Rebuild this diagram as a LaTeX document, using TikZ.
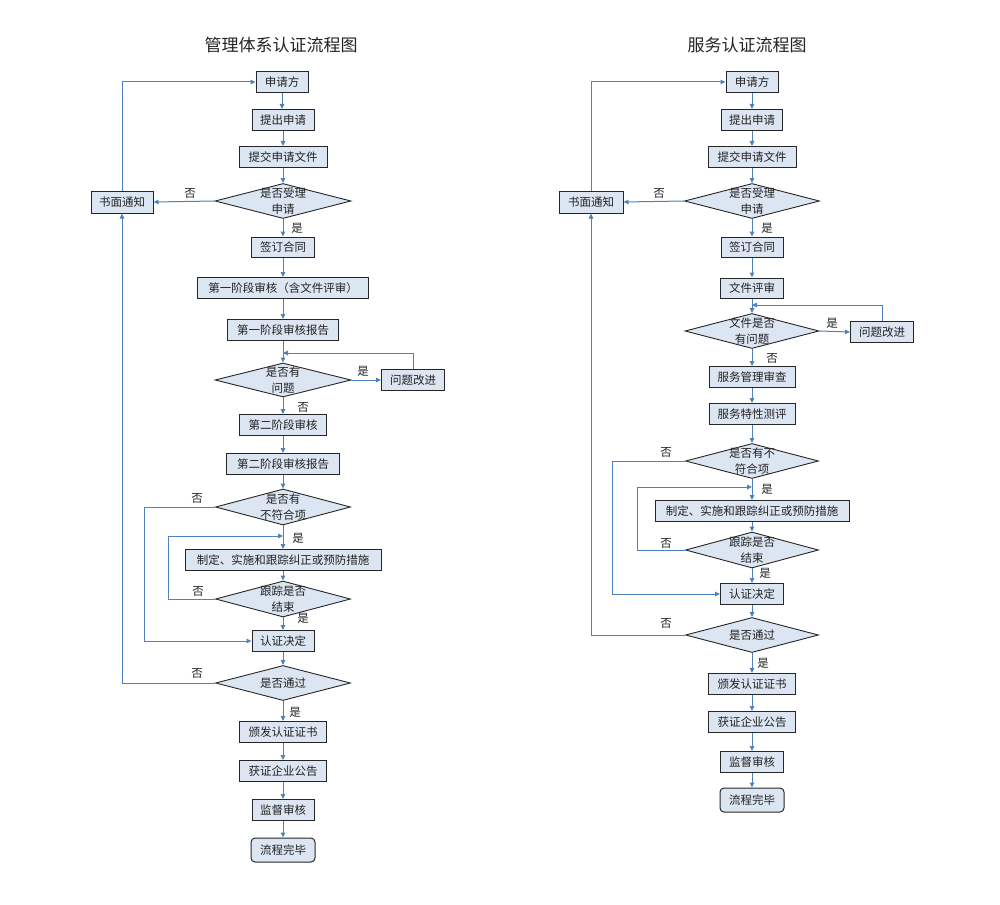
\documentclass[tikz,border=0pt]{standalone}
\usepackage{fontspec}
\newfontfamily\cjk{Noto Sans CJK SC}
\usetikzlibrary{shapes.geometric,arrows.meta}
\definecolor{boxfill}{HTML}{DCE6F2}
\definecolor{lineblue}{HTML}{4F81BD}
\definecolor{txt}{HTML}{222222}
\begin{document}
\begin{tikzpicture}[x=1pt,y=-1pt,
  box/.style={draw=black!85, fill=boxfill, line width=1pt, inner sep=0pt, minimum height=21pt, text=txt, font=\cjk\fontsize{11.5}{14}\selectfont},
  endbox/.style={box, rounded corners=4pt, minimum height=24pt},
  dia/.style={diamond, draw=black!85, fill=boxfill, line width=0.9pt, inner sep=0pt, minimum width=135pt, minimum height=35pt},
  dtext/.style={align=center, inner sep=0pt, text=txt, font=\cjk\fontsize{11.5}{16}\selectfont},
  yn/.style={inner sep=0pt, text=txt, font=\cjk\fontsize{11.5}{14}\selectfont},
  ttl/.style={inner sep=0pt, text=txt, font=\cjk\fontsize{17}{20}\selectfont},
  arr/.style={draw=lineblue, line width=1pt, -{Triangle[length=5pt,width=4.5pt]}},
  ln/.style={draw=lineblue, line width=1pt}]
\useasboundingbox (0,0) rectangle (1000,904);

% ---------------- Left chart ----------------
\node[ttl] (Lt) at (281,45) {管理体系认证流程图};
\node[box, minimum width=52pt] (La1) at (282,82) {申请方};
\node[box, minimum width=62pt] (La2) at (283,120) {提出申请};
\node[box, minimum width=88pt] (La3) at (283,157) {提交申请文件};
\node[dia, minimum width=136pt, label={[dtext]center:是否受理\\申请}] (Ld1) at (283,201) {};
\node[box, minimum width=62pt, minimum height=22pt] (Lnt) at (122,202) {书面通知};
\node[box, minimum width=63pt, minimum height=20pt] (La4) at (283,247) {签订合同};
\node[box, minimum width=171pt] (La5) at (283,288) {第一阶段审核（含文件评审）};
\node[box, minimum width=111pt] (La6) at (283,330) {第一阶段审核报告};
\node[dia, minimum width=136pt, minimum height=34pt, label={[dtext]center:是否有\\问题}] (Ld2) at (283,380) {};
\node[box, minimum width=63pt] (Lq) at (413,380) {问题改进};
\node[box, minimum width=87pt] (La7) at (283,425) {第二阶段审核};
\node[box, minimum width=113pt] (La8) at (283,464) {第二阶段审核报告};
\node[dia, minimum height=36pt, label={[dtext]center:是否有\\不符合项}] (Ld3) at (283,507) {};
\node[box, minimum width=196pt] (La9) at (283,560) {制定、实施和跟踪纠正或预防措施};
\node[dia, minimum height=36pt, label={[dtext]center:跟踪是否\\结束}] (Ld4) at (283,599) {};
\node[box, minimum width=62pt] (La10) at (283,641) {认证决定};
\node[dia, label={[dtext]center:是否通过}] (Ld5) at (283,683) {};
\node[box, minimum width=87pt] (La11) at (283,732) {颁发认证证书};
\node[box, minimum width=87pt] (La12) at (283,771) {获证企业公告};
\node[box, minimum width=62pt] (La13) at (283,810) {监督审核};
\node[endbox, minimum width=64pt] (La14) at (283,850) {流程完毕};

\coordinate (Lj1) at (283,353);
\coordinate (Lj2) at (283,536);

\node[yn] (Ly1n) at (190,193) {否};
\node[yn] (Ly1y) at (297,228) {是};
\node[yn] (Ly2y) at (363,371) {是};
\node[yn] (Ly2n) at (303,407) {否};
\node[yn] (Ly3n) at (197,498) {否};
\node[yn] (Ly3y) at (298,538) {是};
\node[yn] (Ly4n) at (198,591) {否};
\node[yn] (Ly4y) at (303,618) {是};
\node[yn] (Ly5n) at (197,673) {否};
\node[yn] (Ly5y) at (295,712) {是};

\draw[arr] (La1.south) -- (La1.south |- La2.north);
\draw[arr] (La2.south) -- (La2.south |- La3.north);
\draw[arr] (La3.south) -- (Ld1.north);
\draw[arr] (Ld1.west) -- (Lnt.east);
\draw[arr] (Ld1.south) -- (Ld1.south |- La4.north);
\draw[arr] (La4.south) -- (La4.south |- La5.north);
\draw[arr] (La5.south) -- (La5.south |- La6.north);
\draw[arr] (La6.south) -- (Ld2.north);
\draw[arr] (Ld2.east) -- (Lq.west);
\draw[arr] (Lq.north) |- (Lj1);
\draw[arr] (Ld2.south) -- (Ld2.south |- La7.north);
\draw[arr] (La7.south) -- (La7.south |- La8.north);
\draw[arr] (La8.south) -- (Ld3.north);
\draw[arr] (Ld3.south) -- (Ld3.south |- La9.north);
\draw[arr] (Ld3.west) -- (144,507) |- (La10.west);
\draw[arr] (La9.south) -- (Ld4.north);
\draw[arr] (Ld4.west) -- (168,599) |- (Lj2);
\draw[arr] (Ld4.south) -- (Ld4.south |- La10.north);
\draw[arr] (La10.south) -- (Ld5.north);
\draw[arr] (Ld5.west) -| (Lnt.south);
\draw[arr] (Ld5.south) -- (Ld5.south |- La11.north);
\draw[arr] (La11.south) -- (La11.south |- La12.north);
\draw[arr] (La12.south) -- (La12.south |- La13.north);
\draw[arr] (La13.south) -- (La13.south |- La14.north);
\draw[arr] (Lnt.north) |- (La1.west);

% ---------------- Right chart ----------------
\node[ttl] (Rt) at (747,45) {服务认证流程图};
\node[box, minimum width=52pt] (Ra1) at (752,82) {申请方};
\node[box, minimum width=61pt] (Ra2) at (752,120) {提出申请};
\node[box, minimum width=88pt] (Ra3) at (752,157) {提交申请文件};
\node[dia, label={[dtext]center:是否受理\\申请}] (Rd1) at (752,201) {};
\node[box, minimum width=64pt, minimum height=22pt] (Rnt) at (591,202) {书面通知};
\node[box, minimum width=62pt, minimum height=20pt] (Ra4) at (752,247) {签订合同};
\node[box, minimum width=63pt, minimum height=20pt] (Ra5) at (752,288) {文件评审};
\node[dia, minimum width=134pt, label={[dtext]center:文件是否\\有问题}] (Rd2) at (752,331) {};
\node[box, minimum width=63pt] (Rq) at (882,332) {问题改进};
\node[box, minimum width=86pt] (Ra6) at (752,377) {服务管理审查};
\node[box, minimum width=86pt] (Ra7) at (752,414) {服务特性测评};
\node[dia, minimum width=133pt, label={[dtext]center:是否有不\\符合项}] (Rd3) at (752,461) {};
\node[box, minimum width=194pt] (Ra8) at (752,511) {制定、实施和跟踪纠正或预防措施};
\node[dia, minimum width=133pt, minimum height=36pt, label={[dtext]center:跟踪是否\\结束}] (Rd4) at (752,550) {};
\node[box, minimum width=63pt] (Ra9) at (752,594) {认证决定};
\node[dia, minimum width=133pt, label={[dtext]center:是否通过}] (Rd5) at (752,635) {};
\node[box, minimum width=87pt] (Ra10) at (752,684) {颁发认证证书};
\node[box, minimum width=87pt] (Ra11) at (752,722) {获证企业公告};
\node[box, minimum width=63pt] (Ra12) at (752,762) {监督审核};
\node[endbox, minimum width=64pt] (Ra13) at (752,800) {流程完毕};

\coordinate (Rj1) at (752,305);
\coordinate (Rj2) at (752,487);

\node[yn] (Ry1n) at (659,193) {否};
\node[yn] (Ry1y) at (767,228) {是};
\node[yn] (Ry2y) at (832,323) {是};
\node[yn] (Ry2n) at (772,358) {否};
\node[yn] (Ry3n) at (666,452) {否};
\node[yn] (Ry3y) at (767,489) {是};
\node[yn] (Ry4n) at (666,543) {否};
\node[yn] (Ry4y) at (765,573) {是};
\node[yn] (Ry5n) at (666,623) {否};
\node[yn] (Ry5y) at (763,663) {是};

\draw[arr] (Ra1.south) -- (Ra1.south |- Ra2.north);
\draw[arr] (Ra2.south) -- (Ra2.south |- Ra3.north);
\draw[arr] (Ra3.south) -- (Rd1.north);
\draw[arr] (Rd1.west) -- (Rnt.east);
\draw[arr] (Rd1.south) -- (Rd1.south |- Ra4.north);
\draw[arr] (Ra4.south) -- (Ra4.south |- Ra5.north);
\draw[arr] (Ra5.south) -- (Rd2.north);
\draw[arr] (Rd2.east) -- (Rq.west);
\draw[arr] (Rq.north) |- (Rj1);
\draw[arr] (Rd2.south) -- (Rd2.south |- Ra6.north);
\draw[arr] (Ra6.south) -- (Ra6.south |- Ra7.north);
\draw[arr] (Ra7.south) -- (Rd3.north);
\draw[arr] (Rd3.south) -- (Rd3.south |- Ra8.north);
\draw[arr] (Rd3.west) -- (612,461) |- (Ra9.west);
\draw[arr] (Ra8.south) -- (Rd4.north);
\draw[arr] (Rd4.west) -- (637,550) |- (Rj2);
\draw[arr] (Rd4.south) -- (Rd4.south |- Ra9.north);
\draw[arr] (Ra9.south) -- (Rd5.north);
\draw[arr] (Rd5.west) -| (Rnt.south);
\draw[arr] (Rd5.south) -- (Rd5.south |- Ra10.north);
\draw[arr] (Ra10.south) -- (Ra10.south |- Ra11.north);
\draw[arr] (Ra11.south) -- (Ra11.south |- Ra12.north);
\draw[arr] (Ra12.south) -- (Ra12.south |- Ra13.north);
\draw[arr] (Rnt.north) |- (Ra1.west);
\end{tikzpicture}
\end{document}
